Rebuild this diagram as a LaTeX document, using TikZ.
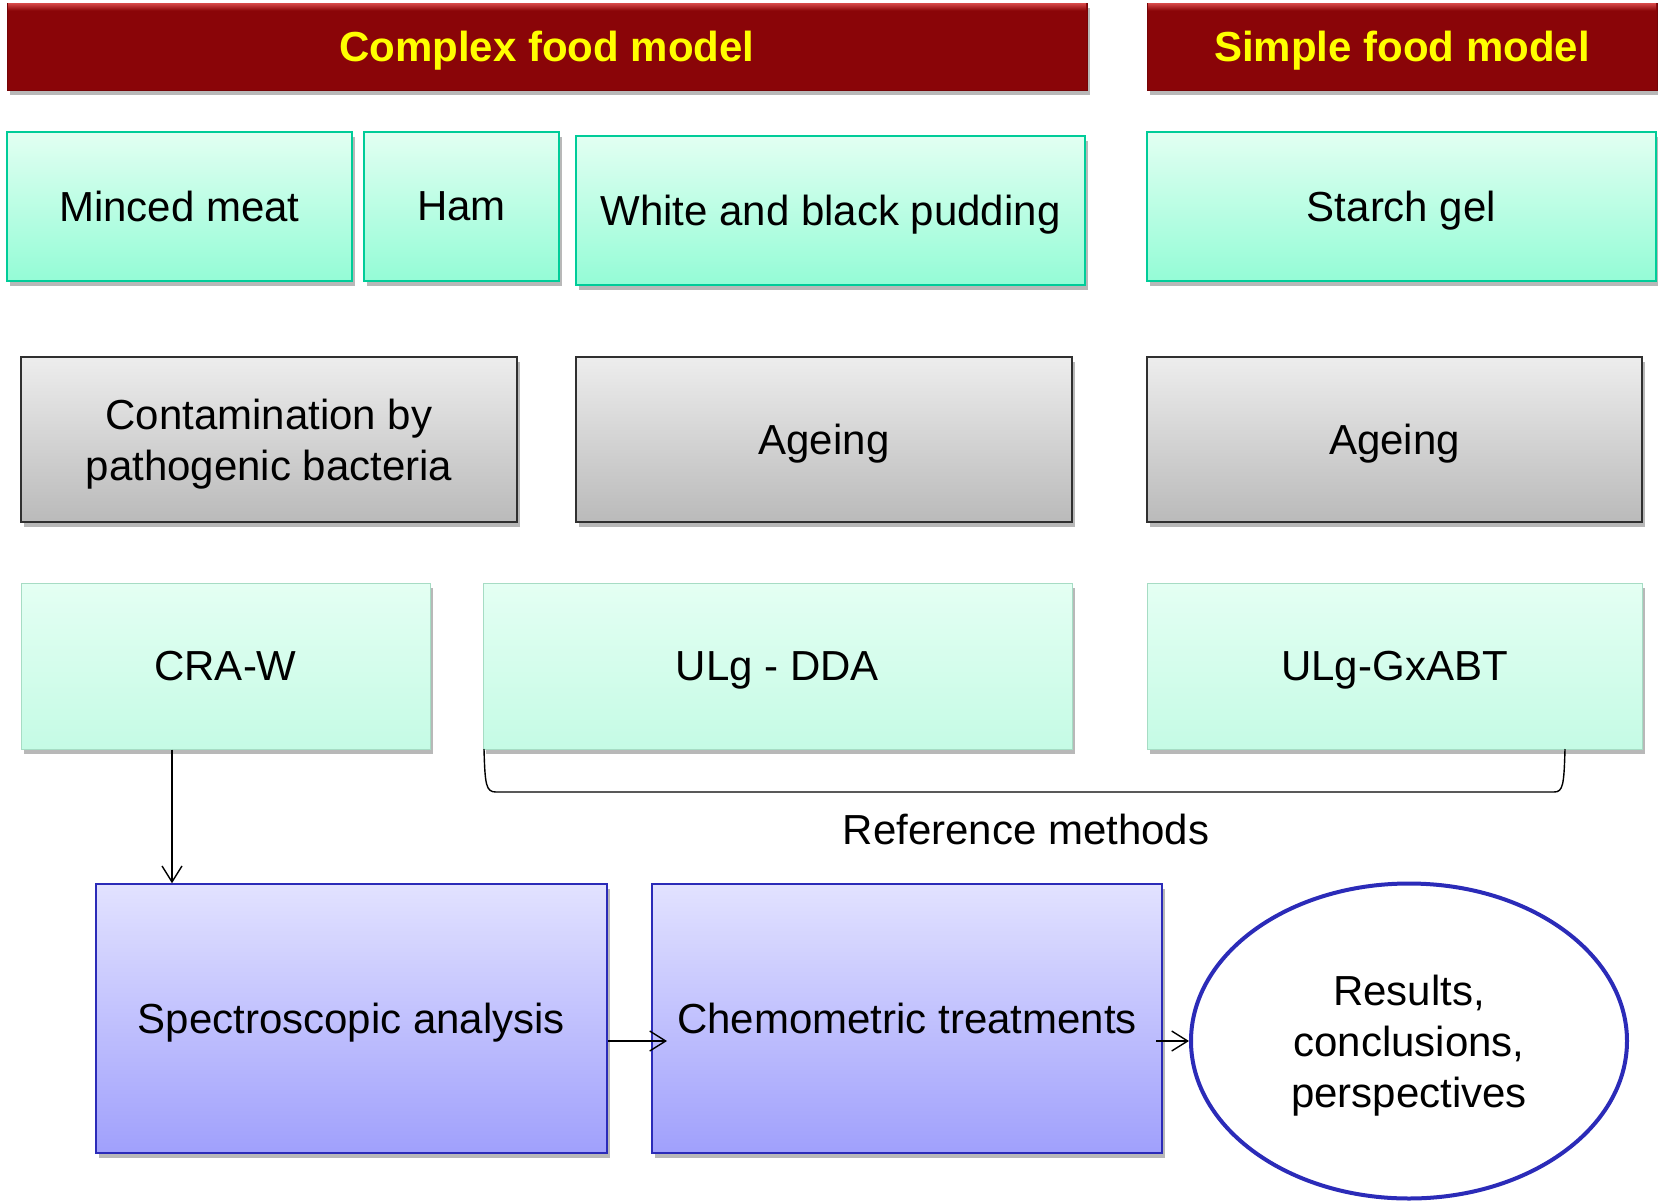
\documentclass[tikz,border=0pt]{standalone}
\usepackage{fontspec}
\setmainfont{Liberation Sans}
\usetikzlibrary{shadows,arrows.meta,calc,shapes.geometric}
\definecolor{hdr}{HTML}{8A0508}
\definecolor{hdrhi}{HTML}{D84A4A}
\definecolor{hdrtxt}{HTML}{FFFF00}
\definecolor{grtop}{HTML}{E2FFF2}
\definecolor{grbot}{HTML}{94FCD6}
\definecolor{grline}{HTML}{00CC99}
\definecolor{gytop}{HTML}{EDEDED}
\definecolor{gybot}{HTML}{BABABA}
\definecolor{gyline}{HTML}{303030}
\definecolor{mttop}{HTML}{E4FFF3}
\definecolor{mtbot}{HTML}{C5FBE5}
\definecolor{mtline}{HTML}{A6DCC4}
\definecolor{bltop}{HTML}{E2E2FF}
\definecolor{blbot}{HTML}{A0A0FC}
\definecolor{blline}{HTML}{2B2BB8}
\newcommand\mybox[7]{%
  \node[#2, minimum width=#5pt-#3pt, minimum height=#6pt-#4pt]
    (#1) at ({(#3+#5)/2},{(#4+#6)/2}) {#7};}
\begin{document}
\begin{tikzpicture}[x=1pt,y=-1pt,
  base/.style={rectangle, inner sep=0pt, align=center, text depth=-8pt,
    font=\fontsize{42}{51}\selectfont},
  shad/.style={drop shadow={shadow xshift=3pt,shadow yshift=-5pt,opacity=0.28,fill=black}},
  hdrbox/.style={base, fill=hdr, draw=hdr!85!black, line width=1pt, shad},
  hdrtext/.style={text=hdrtxt, inner sep=0pt, text depth=-4pt, font=\fontsize{42}{51}\selectfont\bfseries},
  greenbox/.style={base, shad, top color=grtop, bottom color=grbot, draw=grline, line width=2pt},
  greybox/.style={base, shad, top color=gytop, bottom color=gybot, draw=gyline, line width=1.5pt},
  mintbox/.style={base, shad, top color=mttop, bottom color=mtbot, draw=mtline, line width=1pt},
  bluebox/.style={base, shad, top color=bltop, bottom color=blbot, draw=blline, line width=1.5pt},
  conn/.style={line width=1.4pt, -{Straight Barb[length=16pt,width=20pt,line width=1.4pt]}},
]
\useasboundingbox (0,0) rectangle (1658,1200);
% headers
\mybox{h1}{hdrbox}{7}{3}{1087}{90}{}
\mybox{h2}{hdrbox}{1147}{3}{1657}{90}{}
\foreach \h in {h1,h2}{
  \shade[top color=hdrhi, bottom color=hdr] ($(\h.north west)+(1.5,0.5)$) rectangle ($(\h.north east)+(-1.5,8)$);
}
\node[hdrtext] (t1) at (h1) {Complex food model};
\node[hdrtext] (t2) at (h2) {Simple food model};
% food boxes
\mybox{mm}{greenbox}{7}{132}{352}{281}{Minced meat}
\mybox{ham}{greenbox}{364}{132}{559}{281}{Ham}
\mybox{wbp}{greenbox}{576}{136}{1085}{285}{White and black pudding}
\mybox{sg}{greenbox}{1147}{132}{1656}{281}{Starch gel}
% treatment boxes
\mybox{cont}{greybox}{21}{357}{517}{522}{Contamination by\\pathogenic bacteria}
\mybox{age1}{greybox}{576}{357}{1072}{522}{Ageing}
\mybox{age2}{greybox}{1147}{357}{1642}{522}{Ageing}
% method boxes
\mybox{craw}{mintbox}{21}{583}{430}{749}{CRA-W}
\mybox{dda}{mintbox}{483}{583}{1072}{749}{ULg - DDA}
\mybox{gx}{mintbox}{1147}{583}{1642}{749}{ULg-GxABT}
% bracket
\coordinate (bl) at (484,749);
\coordinate (br) at (1565,749);
\draw[line width=1.4pt] (bl) .. controls (485,785) and (486,792) .. (496,792)
   -- (1554,792) .. controls (1563,792) and (1564,785) .. (br);
\node[base] (ref) at (1026,829) {Reference methods};
% analysis
\mybox{spec}{bluebox}{96}{884}{607}{1153}{Spectroscopic analysis}
\mybox{chem}{bluebox}{652}{884}{1162}{1153}{Chemometric treatments}
\node[base, ellipse, draw=blline, line width=4pt, fill=white,
  minimum width=436pt, minimum height=315pt] (res) at (1409,1041)
  {Results,\\conclusions,\\perspectives};
% connectors
\coordinate (c1) at (craw.south -| 172,0);
\draw[conn] (c1) -- (c1 |- spec.north);
\draw[conn] (spec.east |- 0,1041) -- (667,1041);
\draw[conn] (1156,1041) -- (res.west);
\end{tikzpicture}
\end{document}
